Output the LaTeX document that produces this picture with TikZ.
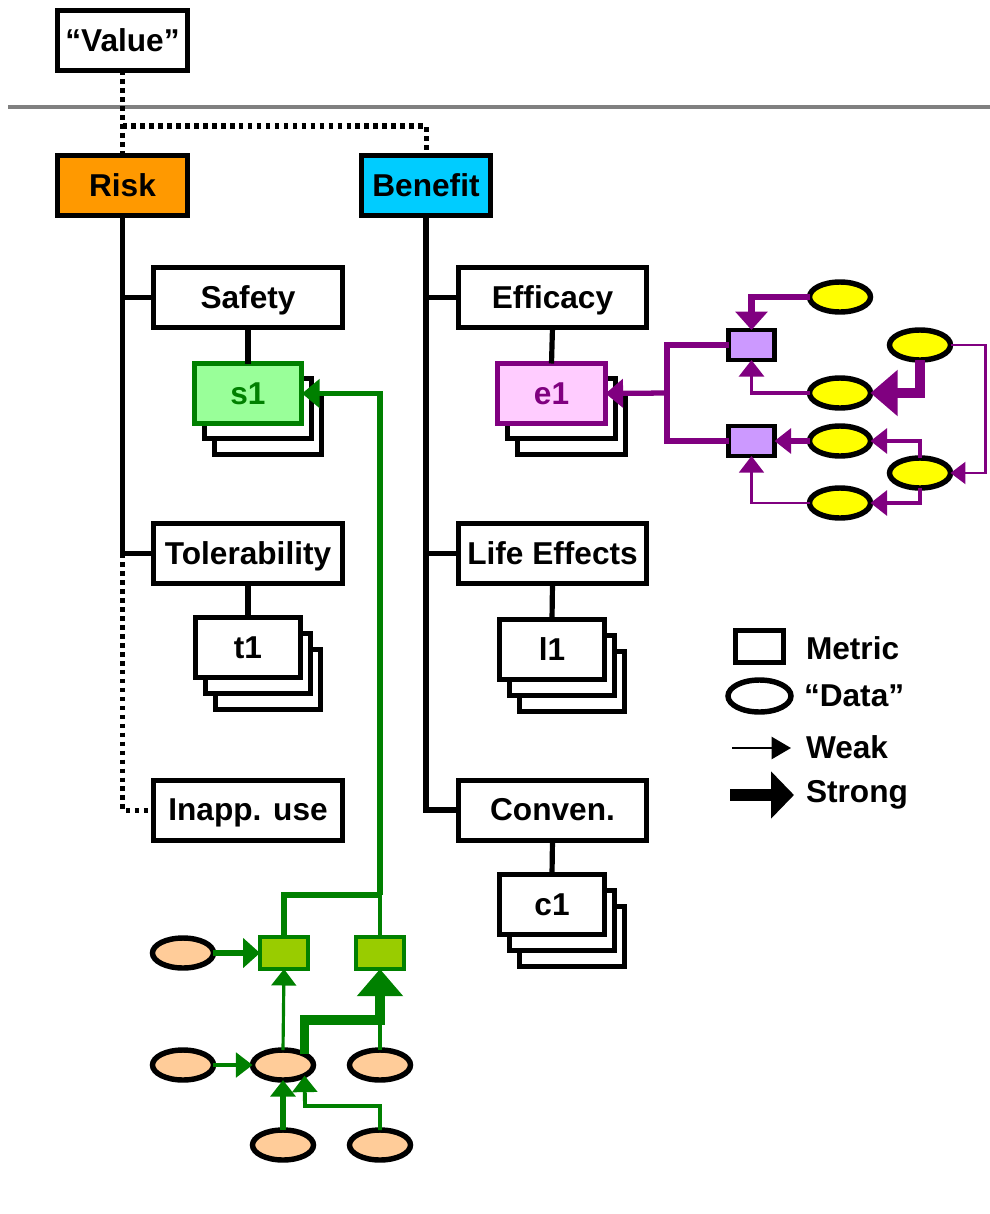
\documentclass[tikz,border=0pt]{standalone}
\usepackage{fontspec}
\setmainfont{Liberation Sans}
\usetikzlibrary{arrows.meta,shapes.geometric}
\definecolor{riskorange}{HTML}{FF9900}
\definecolor{benefitcyan}{HTML}{00CCFF}
\definecolor{dkgreen}{HTML}{008000}
\definecolor{ltgreen}{HTML}{99FF99}
\definecolor{metgreen}{HTML}{99CC00}
\definecolor{dkpurple}{HTML}{800080}
\definecolor{ltpink}{HTML}{FFCCFF}
\definecolor{lavender}{HTML}{CC99FF}
\definecolor{datayellow}{HTML}{FFFF00}
\definecolor{peach}{HTML}{FFCC99}
\begin{document}
\begin{tikzpicture}[x=0.02cm,y=-0.02cm,
  every node/.style={inner sep=0pt, outer sep=0pt},
  lbl/.style={font=\fontsize{18}{21}\selectfont\bfseries, text height=16.3pt, text depth=3.8pt},
  tbox/.style={draw, line width=2.85pt, fill=white, minimum height=1.2cm, lbl},
  backbox/.style={draw, line width=2.85pt, fill=white, minimum height=1.2cm},
  tree/.style={line width=2.95pt},
  dotline/.style={line width=2.85pt, dash pattern=on 2.55pt off 2.55pt},
  metricP/.style={draw, line width=2.7pt, fill=lavender, minimum width=0.92cm, minimum height=0.6cm},
  metricG/.style={draw=dkgreen, line width=2.5pt, fill=metgreen, minimum width=0.96cm, minimum height=0.64cm},
  dataY/.style={ellipse, draw, line width=3.1pt, fill=datayellow, minimum width=1.22cm, minimum height=0.6cm},
  dataP/.style={ellipse, draw, line width=3.1pt, fill=peach, minimum width=1.22cm, minimum height=0.6cm},
  hS/.style={-{Triangle[length=9.4pt,width=14pt]}},
  hM/.style={-{Triangle[length=10pt,width=16pt]}},
  hB/.style={-{Triangle[length=15.5pt,width=25.5pt]}},
  pline/.style={draw=dkpurple, line width=#1},
  gline/.style={draw=dkgreen, line width=#1},
  ltext/.style={font=\fontsize{18}{21}\selectfont\bfseries, anchor=base west}
]
\useasboundingbox (0,0) rectangle (990,1214);

% top of the hierarchy
\node[tbox, minimum width=2.6cm] (value) at (122.5,40.5) {“Value”};
\draw[line width=2.27pt, gray] (8,107) -- (990,107);
\node[tbox, minimum width=2.6cm, fill=riskorange] (risk) at (122.5,185.5) {Risk};
\node[tbox, minimum width=2.58cm, fill=benefitcyan] (benefit) at (426,185.5) {Benefit};
\coordinate (vj) at (122.5,126);
\draw[dotline] (value.south) -- (risk.north);
\draw[dotline] (vj) -| (benefit.north);

% risk branch
\node[tbox, minimum width=3.78cm] (safety) at (248,297.5) {Safety};
\node[tbox, minimum width=3.78cm] (tol) at (248,553.5) {Tolerability};
\node[tbox, minimum width=3.78cm] (inapp) at (248,810) {Inapp. use};
\draw[tree] (risk.south) |- (tol.west);
\draw[tree] (risk.south) |- (safety.west);
\draw[dotline] (risk.south |- tol.west) |- (inapp.west);

% benefit branch
\node[tbox, minimum width=3.78cm] (effic) at (552.5,297.5) {Efficacy};
\node[tbox, minimum width=3.78cm] (life) at (552.5,553.5) {Life Effects};
\node[tbox, minimum width=3.78cm] (conv) at (552.5,810) {Conven.};
\draw[tree] (benefit.south) |- (conv.west);
\draw[tree] (benefit.south) |- (effic.west);
\draw[tree] (benefit.south) |- (life.west);

% stacked metric cards
\node[backbox, minimum width=2.16cm] (s1c) at (268,424.5) {};
\node[backbox, minimum width=2.16cm] (s1b) at (258,408.5) {};
\node[tbox, minimum width=2.16cm, draw=dkgreen, fill=ltgreen, text=dkgreen] (s1) at (248,393.5) {s1};
\draw[tree] (safety.south) -- (s1.north);

\node[backbox, minimum width=2.1cm] (t1c) at (268,679.5) {};
\node[backbox, minimum width=2.1cm] (t1b) at (258,663.5) {};
\node[tbox, minimum width=2.1cm] (t1) at (248,647.5) {t1};
\draw[tree] (tol.south) -- (t1.north);

\node[backbox, minimum width=2.16cm] (e1c) at (571.5,424.5) {};
\node[backbox, minimum width=2.16cm] (e1b) at (561.5,408.5) {};
\node[tbox, minimum width=2.16cm, draw=dkpurple, fill=ltpink, text=dkpurple] (e1) at (551.5,393.5) {e1};
\draw[tree] (effic.south) -- (e1.north);

\node[backbox, minimum width=2.1cm] (l1c) at (572,681.5) {};
\node[backbox, minimum width=2.1cm] (l1b) at (562,665.5) {};
\node[tbox, minimum width=2.1cm] (l1) at (552,649.5) {l1};
\draw[tree] (life.south) -- (l1.north);

\node[backbox, minimum width=2.1cm] (c1c) at (572,936.5) {};
\node[backbox, minimum width=2.1cm] (c1b) at (562,920.5) {};
\node[tbox, minimum width=2.1cm] (c1) at (552,904.5) {c1};
\draw[tree] (conv.south) -- (c1.north);

% efficacy evidence network
\node[metricP] (m1) at (751.5,345) {};
\node[metricP] (m2) at (751.5,441) {};
\node[dataY] (y1) at (840,297) {};
\node[dataY] (y2) at (920,345) {};
\node[dataY] (y3) at (840,393) {};
\node[dataY] (y4) at (840,441) {};
\node[dataY] (y5) at (920,473) {};
\node[dataY] (y6) at (840,503) {};
\coordinate (pj) at (667,393);
\draw[pline=3pt] (m1.west) -| (pj);
\draw[pline=3pt] (m2.west) -| (pj);
\draw[pline=3pt, hM, dkpurple] (pj) -- (e1.east);
\draw[pline=3.6pt, dkpurple, -{Triangle[length=10.5pt,width=18pt]}] (y1.west) -| (m1.north);
\draw[pline=2.1pt, hS, dkpurple] (y3.west) -| (m1.south);
\draw[pline=6pt, hB, dkpurple] (y2.south) |- (y3.east);
\draw[pline=1.3pt, dkpurple, -{Triangle[length=8.5pt,width=12.5pt]}] (y2.east) -- ++(35,0) |- (y5.east);
\draw[pline=2.8pt, hS, dkpurple] (y5.north) |- (y4.east);
\draw[pline=2.8pt, hS, dkpurple] (y5.south) |- (y6.east);
\draw[pline=3pt, hS, dkpurple] (y4.west) -- (m2.east);
\draw[pline=1.4pt, hS, dkpurple] (y6.west) -| (m2.south);

% safety evidence network
\node[metricG] (g1) at (284,953) {};
\node[metricG] (g2) at (380,953) {};
\node[dataP] (p1) at (183,953) {};
\node[dataP] (p2) at (183,1065) {};
\node[dataP] (p3) at (283,1065) {};
\node[dataP] (p4) at (380,1065) {};
\node[dataP] (p5) at (283,1145) {};
\node[dataP] (p6) at (380,1145) {};
\coordinate (gj) at (380,895);
\coordinate (g2in) at (380,1020);
\coordinate (p6k) at (305,1106);
\draw[gline=3.1pt] (g1.north) |- (gj);
\draw[gline=1.9pt] (g2.north) -- (gj);
\draw[gline=3.1pt, hM, dkgreen] (gj) |- (s1.east);
\draw[gline=3.6pt, dkgreen, -{Triangle[length=9.6pt,width=16.5pt]}] (p1.east) -- (g1.west);
\draw[gline=1.8pt, hS, dkgreen] (p2.east) -- (p3.west);
\draw[gline=1.8pt, hS, dkgreen] (p3.north) -- (g1.south);
\draw[gline=1.9pt] (p4.north) -- (g2in);
\draw[gline=5.6pt, hB, dkgreen] (p3.north east) |- (g2in) -- (g2.south);
\draw[gline=3pt, hS, dkgreen] (p5.north) -- (p3.south);
\draw[gline=2.2pt, hS, dkgreen] (p6.north) |- (p6k) -- (p3.south east);

% legend
\node[draw, line width=2.85pt, minimum width=0.96cm, minimum height=0.64cm] (legm) at (759.5,646.5) {};
\node[ellipse, draw, line width=3.1pt, minimum width=1.26cm, minimum height=0.64cm] (legd) at (759.5,696) {};
\coordinate (lw1) at (732,748);
\coordinate (lw2) at (791,748);
\coordinate (ls1) at (730,795);
\coordinate (ls2) at (794,795);
\draw[line width=1.4pt, -{Triangle[length=11pt,width=12.5pt]}] (lw1) -- (lw2);
\draw[line width=6.8pt, -{Triangle[length=13pt,width=26pt]}] (ls1) -- (ls2);
\node[ltext] (tm) at (806,659) {Metric};
\node[ltext] (td) at (804,706) {“Data”};
\node[ltext] (tw) at (806,758) {Weak};
\node[ltext] (ts) at (806,802) {Strong};
\end{tikzpicture}
\end{document}
